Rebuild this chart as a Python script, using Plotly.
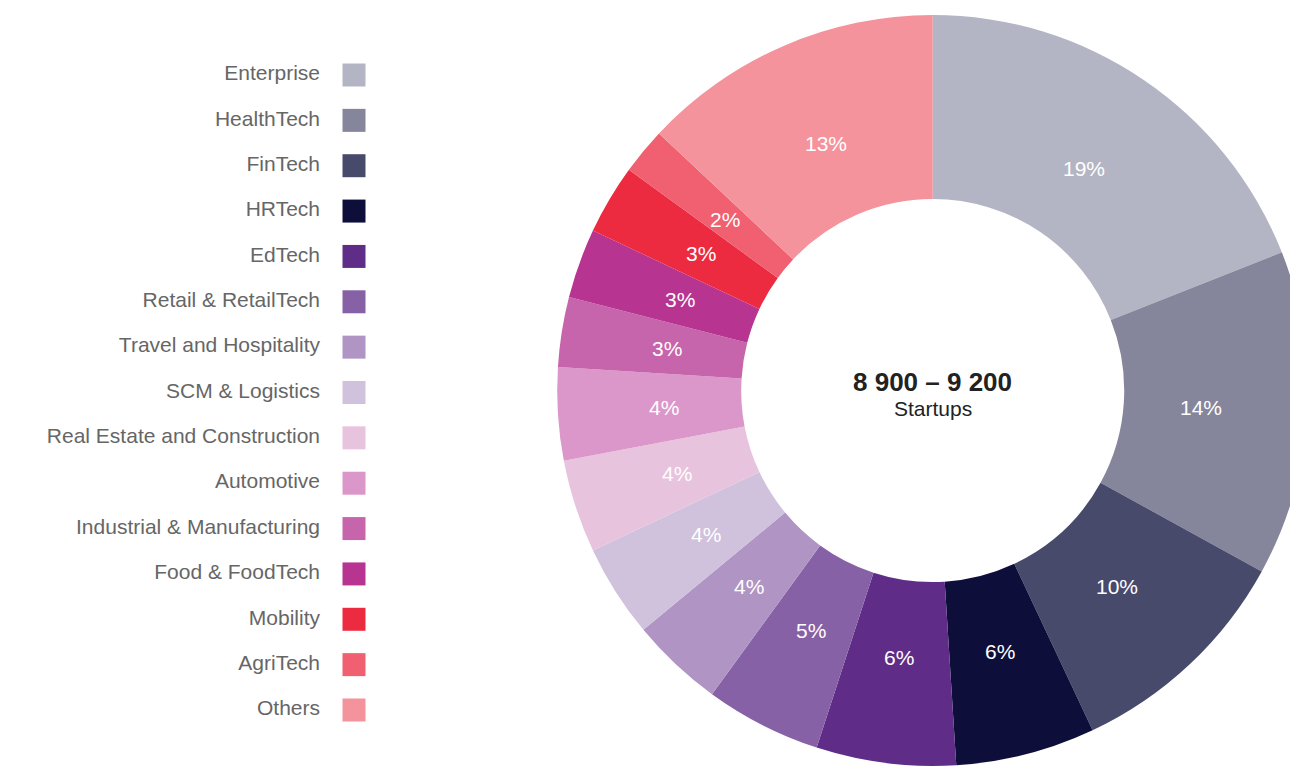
import math
import plotly.graph_objects as go

# Startup distribution by sector
sectors = [
    "Enterprise", "HealthTech", "FinTech", "HRTech", "EdTech",
    "Retail & RetailTech", "Travel and Hospitality", "SCM & Logistics",
    "Real Estate and Construction", "Automotive", "Industrial & Manufacturing",
    "Food & FoodTech", "Mobility", "AgriTech", "Others",
]
shares = [19, 14, 10, 6, 6, 5, 4, 4, 4, 4, 3, 3, 3, 2, 13]
colors = [
    "#b4b5c4", "#85869b", "#484a6c", "#0e0e3b", "#5f2d88",
    "#8661a6", "#af94c4", "#d0c1dc", "#e8c3de", "#db97c9",
    "#c665ab", "#b73491", "#ec2a40", "#f06070", "#f5939d",
]
center_title = "8 900 – 9 200"
center_subtitle = "Startups"

W, H = 1320, 768
FONT = "Arial, Liberation Sans, sans-serif"

# donut geometry (pixels)
cx, cy, r_out = 932.7, 390.5, 375.5
r_label = 269

fig = go.Figure()

fig.add_trace(go.Pie(
    labels=sectors,
    values=shares,
    marker=dict(colors=colors, line=dict(width=0)),
    hole=0.51,
    sort=False,
    direction="clockwise",
    rotation=0,
    textinfo="none",
    showlegend=False,
    hoverinfo="label+percent",
    domain=dict(
        x=[(cx - r_out) / W, (cx + r_out) / W],
        y=[(H - cy - r_out) / H, (H - cy + r_out) / H],
    ),
))

# percentage labels placed at each slice's mid-angle
total = sum(shares)
acc = 0.0
for share in shares:
    mid = (acc + share / 2) / total * 2 * math.pi
    acc += share
    px = cx + r_label * math.sin(mid)
    py = cy - r_label * math.cos(mid)
    fig.add_annotation(
        x=px / W, y=(H - py) / H, xref="paper", yref="paper",
        text=f"{round(share / total * 100)}%", showarrow=False,
        xanchor="center", yanchor="middle",
        font=dict(family=FONT, size=21, color="#ffffff"),
    )

# legend drawn as a column of square markers with right-aligned labels
fig.add_trace(go.Scatter(
    x=[354] * len(sectors),
    y=sectors,
    mode="markers",
    marker=dict(symbol="square", size=23, color=colors, line=dict(width=0)),
    hoverinfo="skip",
    showlegend=False,
))
fig.add_trace(go.Scatter(
    x=[320] * len(sectors),
    y=sectors,
    mode="text",
    text=sectors,
    textposition="middle left",
    textfont=dict(family=FONT, size=21, color="#666666"),
    hoverinfo="skip",
    showlegend=False,
))

fig.add_annotation(
    x=cx / W, y=(H - 382) / H, xref="paper", yref="paper",
    text=f"<b>{center_title}</b>", showarrow=False,
    font=dict(family=FONT, size=26, color="#222222"),
    xanchor="center", yanchor="middle",
)
fig.add_annotation(
    x=cx / W, y=(H - 408) / H, xref="paper", yref="paper",
    text=center_subtitle, showarrow=False,
    font=dict(family=FONT, size=21, color="#222222"),
    xanchor="center", yanchor="middle",
)

n = len(sectors)
step = (710 - 75) / (n - 1)
r0 = -75 / step
r1 = r0 + H / step

fig.update_layout(
    width=W, height=H,
    margin=dict(l=0, r=0, t=0, b=0),
    paper_bgcolor="#ffffff", plot_bgcolor="rgba(0,0,0,0)",
    xaxis=dict(range=[0, W], domain=[0, 1], visible=False, fixedrange=True),
    yaxis=dict(type="category", categoryorder="array", categoryarray=sectors,
               range=[r1, r0], domain=[0, 1], visible=False, fixedrange=True),
    font=dict(family=FONT),
)

fig.write_html(
    "out.html",
    post_script="document.body.style.overflow='hidden';document.documentElement.style.overflow='hidden';",
)
